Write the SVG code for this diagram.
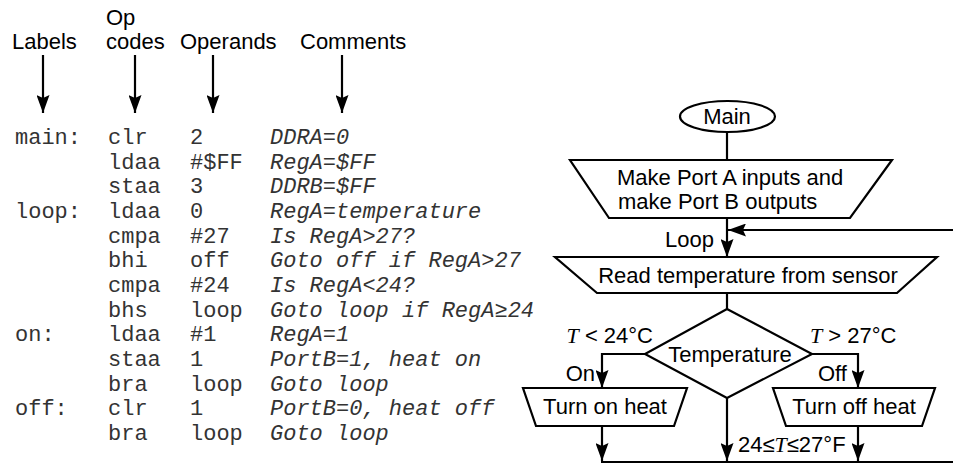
<svg xmlns="http://www.w3.org/2000/svg" width="953" height="464" viewBox="0 0 953 464">
<style>
.s{font-family:"Liberation Sans",Arial,sans-serif;font-size:22px;fill:#000}
.m{font-family:"Liberation Mono","Courier New",monospace;font-size:22px;fill:#333}
.i{font-style:italic}
.t{font-family:"Liberation Serif","Times New Roman",serif;font-style:italic}
.shape{fill:#fff;stroke:#000;stroke-width:2.2}
.ln{fill:none;stroke:#000;stroke-width:2.2}
</style>
<defs>
<marker id="ah" viewBox="0 0 18 13" refX="18" refY="6.5" markerWidth="18" markerHeight="13" orient="auto" markerUnits="userSpaceOnUse">
<path d="M0,0 L18,6.5 L0,13 L3,6.5 z" fill="#000"/>
</marker>
</defs>
<rect width="953" height="464" fill="#fff"/>
<g id="headers">
<text class="s" x="12" y="49">Labels</text>
<text class="s" x="106" y="25">Op</text>
<text class="s" x="106" y="49">codes</text>
<text class="s" x="180" y="49">Operands</text>
<text class="s" x="300" y="49">Comments</text>
</g>
<g id="header-arrows">
<line class="ln" x1="43" y1="55" x2="43" y2="113" marker-end="url(#ah)"/>
<line class="ln" x1="135" y1="55" x2="135" y2="113" marker-end="url(#ah)"/>
<line class="ln" x1="213" y1="55" x2="213" y2="113" marker-end="url(#ah)"/>
<line class="ln" x1="342" y1="55" x2="342" y2="113" marker-end="url(#ah)"/>
</g>
<g id="code" class="m">
<text x="15" y="144">main:</text><text x="108" y="144">clr</text><text x="190" y="144">2</text><text class="i" x="270" y="144">DDRA=0</text>
<text x="108" y="168.7">ldaa</text><text x="190" y="168.7">#$FF</text><text class="i" x="270" y="168.7">RegA=$FF</text>
<text x="108" y="193.3">staa</text><text x="190" y="193.3">3</text><text class="i" x="270" y="193.3">DDRB=$FF</text>
<text x="15" y="218">loop:</text><text x="108" y="218">ldaa</text><text x="190" y="218">0</text><text class="i" x="270" y="218">RegA=temperature</text>
<text x="108" y="242.7">cmpa</text><text x="190" y="242.7">#27</text><text class="i" x="270" y="242.7">Is RegA&gt;27?</text>
<text x="108" y="267.3">bhi</text><text x="190" y="267.3">off</text><text class="i" x="270" y="267.3">Goto off if RegA&gt;27</text>
<text x="108" y="292">cmpa</text><text x="190" y="292">#24</text><text class="i" x="270" y="292">Is RegA&lt;24?</text>
<text x="108" y="316.7">bhs</text><text x="190" y="316.7">loop</text><text class="i" x="270" y="316.7">Goto loop if RegA≥24</text>
<text x="15" y="341.3">on:</text><text x="108" y="341.3">ldaa</text><text x="190" y="341.3">#1</text><text class="i" x="270" y="341.3">RegA=1</text>
<text x="108" y="366">staa</text><text x="190" y="366">1</text><text class="i" x="270" y="366">PortB=1, heat on</text>
<text x="108" y="390.7">bra</text><text x="190" y="390.7">loop</text><text class="i" x="270" y="390.7">Goto loop</text>
<text x="15" y="415.3">off:</text><text x="108" y="415.3">clr</text><text x="190" y="415.3">1</text><text class="i" x="270" y="415.3">PortB=0, heat off</text>
<text x="108" y="440">bra</text><text x="190" y="440">loop</text><text class="i" x="270" y="440">Goto loop</text>
</g>
<g id="connectors">
<line class="ln" x1="727" y1="132" x2="727" y2="160"/>
<line class="ln" x1="727" y1="218" x2="727" y2="257" marker-end="url(#ah)"/>
<line class="ln" x1="953" y1="230" x2="728" y2="230" marker-end="url(#ah)"/>
<line class="ln" x1="727" y1="293" x2="727" y2="309"/>
<polyline class="ln" points="645,354 602,354 602,388" marker-end="url(#ah)"/>
<polyline class="ln" points="812,354 858,354 858,388" marker-end="url(#ah)"/>
<line class="ln" x1="602" y1="426" x2="602" y2="461" marker-end="url(#ah)"/>
<line class="ln" x1="727" y1="398" x2="727" y2="461" marker-end="url(#ah)"/>
<line class="ln" x1="858" y1="426" x2="858" y2="461" marker-end="url(#ah)"/>
<line class="ln" x1="601" y1="462" x2="953" y2="462"/>
</g>
<g id="node-main">
<ellipse class="shape" cx="727.5" cy="116.5" rx="47.5" ry="15.5"/>
<text class="s" x="727" y="124" text-anchor="middle">Main</text>
</g>
<g id="node-init">
<polygon class="shape" points="570,160 892,160 850,218 609,218"/>
<text class="s" x="617" y="185">Make Port A inputs and</text>
<text class="s" x="618" y="209">make Port B outputs</text>
</g>
<g id="label-loop">
<text class="s" x="714" y="247" text-anchor="end">Loop</text>
</g>
<g id="node-read">
<polygon class="shape" points="555,257 937,257 897,293 597,293"/>
<text class="s" x="748" y="283" text-anchor="middle">Read temperature from sensor</text>
</g>
<g id="node-decision">
<polygon class="shape" points="727,309 812,354 727,398 645,354"/>
<text class="s" x="730" y="362" text-anchor="middle">Temperature</text>
<text class="s" x="653" y="343" text-anchor="end"><tspan class="t">T</tspan> &lt; 24°C</text>
<text class="s" x="810" y="343"><tspan class="t">T</tspan> &gt; 27°C</text>
<text class="s" x="595" y="381" text-anchor="end">On</text>
<text class="s" x="818" y="381">Off</text>
<text class="s" x="738" y="452">24≤<tspan class="t">T</tspan>≤27°F</text>
</g>
<g id="node-heat-on">
<polygon class="shape" points="523,388 687,388 674,426 536,426"/>
<text class="s" x="605" y="414" text-anchor="middle">Turn on heat</text>
</g>
<g id="node-heat-off">
<polygon class="shape" points="773,388 935,388 922,426 786,426"/>
<text class="s" x="854" y="414" text-anchor="middle">Turn off heat</text>
</g>
</svg>
